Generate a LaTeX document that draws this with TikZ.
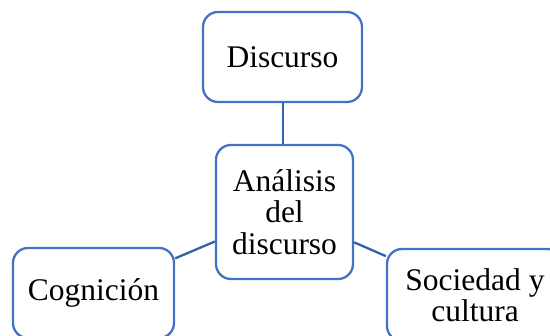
\documentclass[tikz,border=0pt]{standalone}
\usepackage{fontspec}
\setmainfont{Liberation Serif}
\definecolor{boxblue}{HTML}{4472C4}
\definecolor{linkblue}{HTML}{3460AC}
\begin{document}
\begin{tikzpicture}[x=1pt,y=-1pt,
  box/.style={draw=boxblue,line width=2.3pt,rounded corners=15pt,fill=white,
    inner sep=0pt,align=center,font=\fontsize{31.5}{31.5}\selectfont},
  link/.style={draw=linkblue,line width=2.3pt}]
\useasboundingbox (0,0) rectangle (550,336);
\clip (0,0) rectangle (550,336);
\node[box,minimum width=159pt,minimum height=90pt] (disc) at (282.5,57) {Discurso};
\node[box,minimum width=137pt,minimum height=134pt] (ad) at (284.5,212) {Análisis\\del\\discurso};
\node[box,minimum width=161pt,minimum height=90pt] (cog) at (93.5,293) {Cognición};
\node[box,minimum width=176pt,minimum height=92pt] (soc) at (475,295) {Sociedad y\\cultura};
\draw[link] ([xshift=0.5pt]disc.south) -- ([xshift=0.5pt]disc.south |- ad.north);
\draw[link] (cog) -- (ad);
\draw[link] (ad) -- (soc);
\end{tikzpicture}
\end{document}
